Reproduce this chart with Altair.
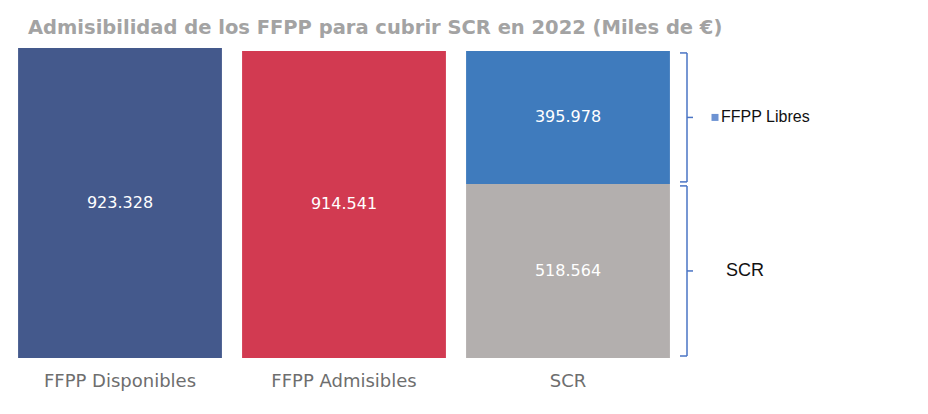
import altair as alt
import pandas as pd

title_text = "Admisibilidad de los FFPP para cubrir SCR en 2022 (Miles de €)"
categories = ["FFPP Disponibles", "FFPP Admisibles", "SCR", "SCR"]
segments = ["Disponibles", "Admisibles", "SCR", "FFPP Libres"]
values = [923.328, 914.541, 518.564, 395.978]
labels = ["923.328", "914.541", "518.564", "395.978"]
stack_order = [0, 0, 0, 1]
seg_colors = ["#44598c", "#d23a51", "#b3afae", "#3f7bbd"]
cat_order = ["FFPP Disponibles", "FFPP Admisibles", "SCR"]

df = pd.DataFrame({"cat": categories, "seg": segments, "value": values,
                   "label": labels, "ord": stack_order})

W, H = 672, 310
xs = alt.X("cat:N", sort=cat_order,
           scale=alt.Scale(paddingInner=0.09, paddingOuter=0.045), axis=None)
ys = alt.Scale(domain=[0, 923.328], nice=False, zero=True)

base = alt.Chart(df).transform_stack(
    stack="value", groupby=["cat"], as_=["v0", "v1"],
    sort=[alt.SortField("ord", order="ascending")]
).transform_calculate(mid="(datum.v0 + datum.v1) / 2")

bars = base.mark_bar().encode(
    x=xs,
    y=alt.Y("v1:Q", scale=ys, axis=None),
    y2="v0:Q",
    color=alt.Color("seg:N", scale=alt.Scale(domain=segments, range=seg_colors), legend=None),
)

vals = base.mark_text(color="white", fontSize=16, font="DejaVu Sans",
                      baseline="middle").encode(
    x=xs, y=alt.Y("mid:Q", scale=ys), text="label:N")

catlab = alt.Chart(pd.DataFrame({"cat": cat_order})).mark_text(
    color="#6e6e6e", fontSize=18, font="DejaVu Sans",
    baseline="top", dy=15).encode(x=xs, y=alt.datum(0), text="cat:N")

scr = base.transform_filter("datum.cat == 'SCR'")
bcol = "#4a74c4"
vrule = scr.mark_rule(color=bcol, strokeWidth=1.5, yOffset=-2, y2Offset=2).encode(
    x=alt.value(679), y=alt.Y("v0:Q", scale=ys), y2="v1:Q")
hook_top = scr.mark_rule(color=bcol, strokeWidth=1.5, yOffset=2).encode(
    x=alt.value(672), x2=alt.value(679), y=alt.Y("v1:Q", scale=ys))
hook_bot = scr.mark_rule(color=bcol, strokeWidth=1.5, yOffset=-2).encode(
    x=alt.value(672), x2=alt.value(679), y=alt.Y("v0:Q", scale=ys))
tick = scr.mark_rule(color=bcol, strokeWidth=1.5).encode(
    x=alt.value(679), x2=alt.value(685), y=alt.Y("mid:Q", scale=ys))

sq = scr.transform_filter("datum.seg == 'FFPP Libres'").mark_square(
    color="#6d93d3", size=49, opacity=1).encode(x=alt.value(707), y=alt.Y("mid:Q", scale=ys))
lib_txt = scr.transform_filter("datum.seg == 'FFPP Libres'").mark_text(
    align="left", fontSize=16, font="Liberation Sans", color="#111111").encode(
    x=alt.value(713), y=alt.Y("mid:Q", scale=ys), text="seg:N")
scr_txt = scr.transform_filter("datum.seg == 'SCR'").mark_text(
    align="left", fontSize=18, font="Liberation Sans", color="#111111").encode(
    x=alt.value(718), y=alt.Y("mid:Q", scale=ys), text="seg:N")

title = alt.Chart(pd.DataFrame({"t": [title_text]})).mark_text(
    align="left", baseline="middle", fontSize=19.5, fontWeight="bold",
    font="DejaVu Sans", color="#a3a3a3").encode(
    x=alt.value(20), y=alt.value(-20), text="t:N")

chart = alt.layer(bars, vals, catlab, vrule, hook_top, hook_bot, tick, sq, lib_txt, scr_txt, title).properties(
    width=W, height=H, background="white",
    padding={"left": 0, "top": 10, "right": 5, "bottom": 5}
).configure_view(strokeWidth=0, stroke=None)

chart.save("out.html", embed_options={"renderer": "svg", "actions": False})
